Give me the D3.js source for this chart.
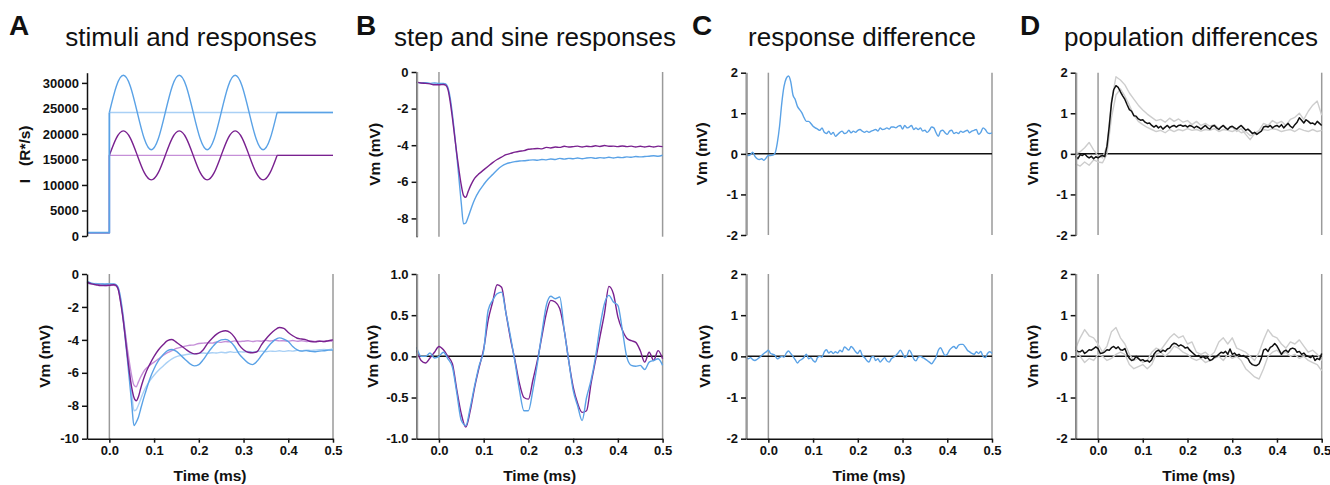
<!DOCTYPE html>
<html><head><meta charset="utf-8">
<script src="https://cdn.jsdelivr.net/npm/d3@7"></script>
<style>
body{margin:0;background:#fff;}
text{font-family:"Liberation Sans",Arial,Helvetica,sans-serif;}
</style></head><body>
<svg id="chart" width="1330" height="485"></svg>
<script>
// ---------------- DATA ----------------
// time grids (ms)
const tFine = d3.range(111).map(i => +(-0.05 + i * 0.005).toFixed(3));
const tCoarse = d3.range(56).map(i => +(-0.05 + i * 0.01).toFixed(2));
const tDense = [-0.05,-0.04,-0.03,-0.02,-0.01,0,
  0.01,0.015,0.02,0.025,0.03,0.035,0.04,0.045,0.05,0.055,0.06,0.065,0.07,0.075,
  0.08,0.09,0.1,0.11,0.12,0.13,0.14,0.15,0.16,0.17,0.18,0.19,0.2,0.21,0.22,0.23,0.24,0.25,
  0.26,0.27,0.28,0.29,0.3,0.31,0.32,0.33,0.34,0.35,0.36,0.37,0.38,0.39,0.4,0.41,0.42,0.43,
  0.44,0.45,0.46,0.47,0.48,0.49,0.5];

// stimuli (R*/s)
const stimPreT = [-0.05, 0, 0];
const stimPreBlue = [650, 650, 24200];
const stimPrePurple = [650, 650, 15800];
const stimSineT = d3.range(25).map(k => k / 64);
const stimSineBlue = [24200,29360,31500,29360,24200,19040,16900,19040,
  24200,29360,31500,29360,24200,19040,16900,19040,
  24200,29360,31500,29360,24200,19040,16900,19040,24200];
const stimSinePurple = [15800,19190,20600,19190,15800,12410,11000,12410,
  15800,19190,20600,19190,15800,12410,11000,12410,
  15800,19190,20600,19190,15800,12410,11000,12410,15800];
const stimPostT = [0.375, 0.5];
const stimPostBlue = [24200, 24200];
const stimPostPurple = [15800, 15800];
const stepLevelT = [0, 0.5];
const stepLevelBlue = [24200, 24200];
const stepLevelPurple = [15800, 15800];

// step responses (mV), on tDense
const stepPurple = [-0.55,-0.6,-0.62,-0.65,-0.7,-0.7,
  -0.68,-0.72,-0.95,-1.6,-2.5,-3.5,-4.5,-5.4,-6.2,-6.75,-6.85,-6.55,-6.25,-6.0,
  -5.8,-5.55,-5.35,-5.15,-4.95,-4.78,-4.65,-4.52,-4.45,-4.38,-4.33,-4.3,-4.22,-4.2,-4.18,-4.2,-4.12,-4.15,
  -4.1,-4.12,-4.06,-4.1,-4.08,-4.05,-4.1,-4.06,-4.08,-4.03,-4.07,-4.02,-4.06,-4.05,-4.08,-4.04,-4.08,-4.05,
  -4.1,-4.06,-4.1,-4.06,-4.1,-4.05,-4.08];
const stepBlue = [-0.55,-0.6,-0.58,-0.62,-0.6,-0.62,
  -0.62,-0.65,-0.85,-1.4,-2.3,-3.4,-4.6,-5.9,-7.2,-8.3,-8.25,-7.95,-7.6,-7.25,
  -6.95,-6.5,-6.15,-5.85,-5.6,-5.35,-5.15,-5.02,-4.95,-4.9,-4.86,-4.85,-4.82,-4.8,-4.82,-4.78,-4.8,-4.75,
  -4.78,-4.72,-4.76,-4.72,-4.74,-4.7,-4.74,-4.7,-4.68,-4.72,-4.68,-4.7,-4.66,-4.7,-4.66,-4.68,-4.64,-4.66,
  -4.62,-4.64,-4.62,-4.6,-4.58,-4.6,-4.55];
// sine responses (mV), on tDense
const sinePurple = [-0.5,-0.6,-0.65,-0.7,-0.7,-0.68,
  -0.65,-0.7,-0.95,-1.7,-2.6,-3.7,-4.9,-6.0,-6.9,-7.5,-7.7,-7.45,-6.95,-6.5,
  -6.1,-5.5,-5.0,-4.6,-4.3,-4.05,-3.98,-4.15,-4.35,-4.55,-4.75,-4.85,-4.82,-4.6,-4.2,-3.9,-3.65,-3.5,
  -3.45,-3.55,-3.85,-4.3,-4.6,-4.75,-4.78,-4.72,-4.3,-3.95,-3.65,-3.4,-3.25,-3.3,-3.55,-3.75,-3.9,-3.95,
  -4.0,-4.1,-4.12,-4.08,-4.1,-4.05,-4.0];
const sineBlue = [-0.45,-0.55,-0.6,-0.6,-0.62,-0.6,
  -0.6,-0.65,-0.85,-1.5,-2.5,-3.8,-5.1,-6.5,-7.9,-9.2,-9.0,-8.7,-8.2,-7.7,
  -7.25,-6.4,-5.75,-5.25,-4.9,-4.65,-4.58,-4.7,-4.95,-5.2,-5.45,-5.58,-5.5,-5.2,-4.8,-4.45,-4.15,-4.0,
  -3.97,-4.1,-4.4,-4.85,-5.15,-5.4,-5.5,-5.3,-4.95,-4.6,-4.25,-4.0,-3.88,-3.95,-4.1,-4.4,-4.6,-4.68,
  -4.65,-4.7,-4.72,-4.68,-4.66,-4.62,-4.62];

// sine minus step (mV), on tCoarse
const diffPurple = [0.07,-0.05,-0.08,-0.02,0.05,0.12,0.08,0.0,-0.09,-0.41,-0.7,-0.86,-0.66,-0.37,-0.13,0.09,
  0.44,0.66,0.87,0.84,0.52,0.21,-0.05,-0.33,-0.5,-0.52,-0.29,-0.05,0.24,0.52,0.68,0.66,0.58,0.32,-0.05,-0.37,
  -0.57,-0.68,-0.66,-0.33,-0.05,0.24,0.52,0.85,0.76,0.48,0.32,0.22,0.19,0.17,0.07,-0.07,0.05,-0.05,0.07,-0.03];
const diffBlue = [0.11,0.0,0.0,0.04,-0.02,0.0,0.05,-0.03,-0.13,-0.45,-0.78,-0.84,-0.62,-0.35,-0.11,0.07,
  0.56,0.68,0.76,0.78,0.52,0.24,-0.07,-0.41,-0.66,-0.66,-0.41,-0.09,0.28,0.62,0.73,0.7,0.72,0.32,-0.05,-0.41,
  -0.6,-0.78,-0.5,-0.29,-0.01,0.36,0.64,0.74,0.66,0.62,0.32,-0.01,-0.11,-0.12,-0.11,-0.16,-0.07,-0.05,-0.03,-0.11];

// response difference (mV), on tFine
const respDiffStep = [-0.02,-0.04,-0.02,0.04,-0.06,-0.12,-0.14,-0.12,-0.16,-0.1,
  -0.04,-0.04,-0.03,0.02,0.27,0.68,1.25,1.66,1.86,1.92,1.78,1.45,1.34,1.17,1.09,1.01,0.89,0.8,0.8,0.75,
  0.68,0.64,0.61,0.58,0.64,0.53,0.5,0.56,0.48,0.53,0.43,0.48,0.53,0.56,0.5,0.52,0.58,0.52,0.56,0.53,
  0.58,0.6,0.56,0.53,0.56,0.53,0.56,0.58,0.6,0.56,0.64,0.6,0.61,0.64,0.61,0.66,0.66,0.64,0.68,0.7,
  0.61,0.7,0.64,0.66,0.7,0.6,0.64,0.6,0.64,0.56,0.58,0.53,0.58,0.66,0.64,0.52,0.43,0.56,0.58,0.52,
  0.48,0.56,0.58,0.5,0.53,0.5,0.56,0.53,0.56,0.58,0.52,0.56,0.58,0.6,0.48,0.53,0.64,0.6,0.52,0.5,0.52];
const respDiffSine = [-0.03,-0.06,-0.03,-0.08,-0.1,-0.07,-0.03,0.02,0.07,0.11,
  0.15,0.07,0.05,0.02,-0.06,-0.03,0.0,-0.02,0.08,0.13,0.07,0.0,-0.08,-0.16,-0.1,-0.07,-0.02,0.05,-0.06,-0.03,
  -0.1,-0.14,-0.03,0.0,-0.02,0.11,0.16,0.08,0.12,0.07,0.11,0.08,0.15,0.11,0.23,0.19,0.15,0.24,0.19,0.11,
  0.07,0.15,0.02,-0.03,-0.1,-0.14,-0.03,0.0,-0.1,-0.06,-0.14,-0.08,-0.03,-0.11,-0.14,-0.06,-0.02,0.02,0.08,0.15,
  0.07,-0.03,0.02,0.15,0.07,-0.06,-0.11,-0.02,0.0,-0.03,-0.06,-0.1,-0.14,-0.18,-0.11,-0.02,0.15,0.21,0.11,0.02,
  0.05,0.15,0.21,0.24,0.19,0.27,0.29,0.29,0.23,0.15,0.11,0.07,0.05,0.11,0.07,0.12,0.0,-0.03,0.07,0.11,0.07];

// population differences (mV)
const popStepMean = [-0.06,-0.12,-0.02,-0.04,0.0,-0.06,-0.1,-0.06,-0.12,-0.07,
  -0.1,-0.06,-0.04,-0.07,0.19,0.68,1.25,1.58,1.68,1.64,1.53,1.43,1.34,1.21,1.09,1.05,0.94,0.93,0.86,0.83,
  0.84,0.78,0.75,0.76,0.7,0.66,0.7,0.64,0.68,0.61,0.66,0.7,0.64,0.68,0.7,0.66,0.7,0.71,0.68,0.7,
  0.66,0.7,0.68,0.64,0.68,0.65,0.61,0.66,0.7,0.64,0.61,0.68,0.7,0.64,0.6,0.66,0.7,0.64,0.6,0.66,
  0.68,0.64,0.61,0.66,0.7,0.64,0.58,0.61,0.56,0.5,0.53,0.48,0.52,0.56,0.66,0.68,0.66,0.7,0.64,0.68,
  0.7,0.66,0.72,0.64,0.7,0.75,0.68,0.64,0.72,0.78,0.89,0.83,0.76,0.84,0.8,0.75,0.76,0.72,0.8,0.75,0.7];
const popStepCellA = [0.0,0.05,0.15,0.28,0.1,-0.05,-0.1,0.2,1.3,1.9,1.82,1.7,1.5,1.35,1.2,1.08,
  0.98,0.9,0.82,0.85,0.78,0.88,0.8,0.86,0.78,0.82,0.72,0.8,0.7,0.75,0.68,0.72,0.62,0.7,0.62,0.66,
  0.55,0.62,0.48,0.35,0.5,0.58,0.75,0.7,0.82,0.75,0.8,0.7,0.85,0.9,1.0,0.85,1.05,1.2,1.3,0.95];
const popStepCellB = [-0.25,-0.3,-0.2,-0.28,-0.15,-0.2,-0.22,0.0,0.9,1.45,1.6,1.42,1.2,0.95,0.8,0.72,
  0.65,0.6,0.55,0.58,0.52,0.6,0.55,0.6,0.57,0.62,0.58,0.6,0.56,0.6,0.58,0.62,0.55,0.6,0.58,0.55,
  0.6,0.52,0.55,0.45,0.48,0.52,0.6,0.58,0.62,0.6,0.55,0.58,0.6,0.55,0.62,0.58,0.55,0.6,0.55,0.58];
const popSineMean = [0.15,0.12,0.11,0.15,0.07,0.11,0.16,0.15,0.19,0.23,
  0.19,0.07,0.08,0.11,0.16,0.15,0.21,0.24,0.19,0.23,0.16,0.15,0.19,0.05,-0.05,-0.1,-0.08,0.0,-0.05,-0.1,
  -0.08,-0.12,-0.1,-0.14,-0.08,0.05,0.12,0.15,0.1,0.15,0.12,0.18,0.2,0.28,0.32,0.3,0.25,0.28,0.25,0.2,
  0.22,0.15,0.1,0.05,0.0,0.02,-0.03,0.0,-0.05,-0.03,-0.1,-0.08,-0.02,0.0,0.05,0.1,0.08,0.12,0.05,0.18,
  0.05,0.08,0.02,0.05,0.0,0.02,-0.02,-0.05,-0.15,-0.2,-0.22,-0.22,-0.18,-0.05,0.15,0.18,0.12,0.22,0.25,0.31,
  0.25,0.15,0.05,0.12,0.15,0.1,0.18,0.2,0.18,0.1,0.12,0.05,0.08,0.02,0.0,-0.03,0.02,-0.1,-0.05,-0.08,0.07];
const popSineCellA = [0.2,0.45,0.65,0.5,0.45,0.3,0.1,0.25,0.6,0.7,0.45,0.3,0.05,-0.1,-0.05,-0.15,
  -0.1,0.1,0.2,0.15,0.3,0.45,0.55,0.45,0.5,0.3,0.35,0.1,0.05,0.1,0.0,0.1,0.35,0.45,0.3,0.45,
  0.2,0.15,0.1,0.0,-0.1,0.1,0.4,0.65,0.5,0.45,0.3,0.2,0.35,0.3,0.4,0.25,0.1,0.15,0.05,-0.1];
const popSineCellB = [0.2,0.0,-0.15,-0.05,-0.1,0.05,0.0,-0.1,-0.05,0.05,0.1,0.05,-0.2,-0.3,-0.25,-0.2,
  -0.3,-0.2,0.05,0.1,0.0,0.1,0.25,0.2,0.1,0.05,-0.05,-0.1,-0.05,-0.15,-0.1,-0.05,0.0,-0.1,0.05,-0.05,
  0.0,-0.1,-0.3,-0.4,-0.5,-0.55,-0.3,0.0,0.1,0.15,0.05,0.1,0.0,0.05,-0.05,0.0,-0.1,-0.15,-0.2,-0.35];

// tick labels
const timeTicks = [0, 0.1, 0.2, 0.3, 0.4, 0.5];
const stimTicks = [0, 5000, 10000, 15000, 20000, 25000, 30000];
const respTicksA = [0, -2, -4, -6, -8, -10];
const respTicksB = [0, -2, -4, -6, -8];
const diffTicksB = [1.0, 0.5, 0.0, -0.5, -1.0];
const diffTicks = [2, 1, 0, -1, -2];

const panelLetters = ["A", "B", "C", "D"];
const panelTitles = ["stimuli and responses", "step and sine responses", "response difference", "population differences"];

// ---------------- DRAWING ----------------
const C = {
  blue: "#5aa2e6", lightBlue: "#a9d0f5",
  purple: "#79218f", lightPurple: "#c58fd8",
  grayLine: "#9a9a9a", cell: "#cdcdcd", black: "#111"
};
const svg = d3.select("#chart");
const PW = 246;
const TOPR = [236, 72.7], BOTR = [438.7, 274];
const X0 = [87, 416.6, 746, 1075.7];

function panel(o) {
  const x = d3.scaleLinear().domain([-0.05, 0.5]).range([o.x0, o.x0 + PW]);
  const y = d3.scaleLinear().domain(o.yDomain).range(o.yRange);
  const g = svg.append("g");
  (o.vlines || []).forEach(t => {
    g.append("line").attr("x1", x(t)).attr("x2", x(t))
      .attr("y1", o.yRange[1]).attr("y2", o.yRange[0])
      .attr("stroke", C.grayLine).attr("stroke-width", 1.5);
  });
  if (o.zero) {
    g.append("line").attr("x1", x(-0.05)).attr("x2", x(0.5))
      .attr("y1", y(0)).attr("y2", y(0))
      .attr("stroke", C.black).attr("stroke-width", 1.5);
  }
  o.series.forEach(s => {
    const line = d3.line().x(d => x(d[0])).y(d => y(d[1])).curve(s.curve || d3.curveLinear);
    g.append("path").datum(d3.zip(s.t, s.v)).attr("d", line)
      .attr("fill", "none").attr("stroke", s.color)
      .attr("stroke-width", s.w || 1.4).attr("stroke-linejoin", "round");
  });
  const ya = g.append("g").attr("transform", `translate(${o.x0},0)`)
    .call(d3.axisLeft(y).tickValues(o.ticks).tickFormat(o.fmt).tickSize(5).tickSizeOuter(0).tickPadding(3));
  ya.select(".domain").attr("stroke", C.black).attr("stroke-width", 1.5);
  ya.selectAll(".tick line").attr("stroke", C.black).attr("stroke-width", 1.5);
  ya.selectAll(".tick text").attr("fill", C.black).style("font-size", "13px").style("font-weight", "bold");
  if (o.leftGray) {
    g.append("line").attr("x1", o.x0 + 0.8).attr("x2", o.x0 + 0.8)
      .attr("y1", o.yRange[1]).attr("y2", o.yRange[0])
      .attr("stroke", C.grayLine).attr("stroke-width", 1.6);
  }
  if (o.xaxis) {
    const xa = g.append("g").attr("transform", `translate(0,${o.yRange[0]})`)
      .call(d3.axisBottom(x).tickValues(timeTicks).tickFormat(d => d.toFixed(1)).tickSize(4).tickSizeOuter(0).tickPadding(3));
    xa.select(".domain").attr("stroke", C.black).attr("stroke-width", 1.5);
    xa.selectAll(".tick line").attr("stroke", C.black).attr("stroke-width", 1.5);
    xa.selectAll(".tick text").attr("fill", C.black).style("font-size", "13px").style("font-weight", "bold");
    g.append("text").attr("x", o.x0 + PW / 2).attr("y", 481).attr("text-anchor", "middle")
      .style("font-size", "15.5px").style("font-weight", "bold").attr("fill", C.black).text("Time (ms)");
  }
  g.append("text").attr("transform", `translate(${o.labelX},${(o.yRange[0] + o.yRange[1]) / 2}) rotate(-90)`)
    .attr("text-anchor", "middle").attr("dy", "0.35em")
    .style("font-size", "15.5px").style("font-weight", "bold").style("white-space", "pre")
    .attr("fill", C.black).text(o.label);
}

const intFmt = d => String(d);
const oneFmt = d => d.toFixed(1);

// Titles & letters
panelLetters.forEach((L, i) => {
  const lx = [9, 356, 692, 1020][i];
  svg.append("text").attr("x", lx).attr("y", 35).style("font-size", "28px").style("font-weight", "bold")
    .attr("fill", C.black).text(L);
  svg.append("text").attr("x", [191, 535, 862, 1191][i]).attr("y", 46).attr("text-anchor", "middle")
    .style("font-size", "26px").attr("fill", C.black).text(panelTitles[i]);
});

// A top: stimuli
panel({
  x0: X0[0], yDomain: [0, 32000], yRange: TOPR, ticks: stimTicks, fmt: intFmt,
  label: "I   (R*/s)", labelX: 25,
  series: [
    {t: stepLevelT, v: stepLevelPurple, color: C.lightPurple},
    {t: stepLevelT, v: stepLevelBlue, color: C.lightBlue},
    {t: stimPreT, v: stimPrePurple, color: C.purple},
    {t: stimSineT, v: stimSinePurple, color: C.purple, curve: d3.curveNatural},
    {t: stimPostT, v: stimPostPurple, color: C.purple},
    {t: stimPreT, v: stimPreBlue, color: C.blue, w: 1.8},
    {t: stimSineT, v: stimSineBlue, color: C.blue, curve: d3.curveNatural},
    {t: stimPostT, v: stimPostBlue, color: C.blue}
  ]
});
// A bottom
panel({
  x0: X0[0], yDomain: [-10, 0], yRange: BOTR, ticks: respTicksA, fmt: intFmt,
  label: "Vm (mV)", labelX: 45, xaxis: true, vlines: [0, 0.5],
  series: [
    {t: tDense, v: stepBlue, color: C.lightBlue, curve: d3.curveMonotoneX},
    {t: tDense, v: stepPurple, color: C.lightPurple, curve: d3.curveMonotoneX},
    {t: tDense, v: sineBlue, color: C.blue, curve: d3.curveMonotoneX},
    {t: tDense, v: sinePurple, color: C.purple, curve: d3.curveMonotoneX}
  ]
});
// B top
panel({
  x0: X0[1], yDomain: [-9, 0], yRange: [236.7, 72], ticks: respTicksB, fmt: intFmt,
  label: "Vm (mV)", labelX: 375, vlines: [0, 0.5], leftGray: true,
  series: [
    {t: tDense, v: stepBlue, color: C.blue, curve: d3.curveMonotoneX},
    {t: tDense, v: stepPurple, color: C.purple, curve: d3.curveMonotoneX}
  ]
});
// B bottom
panel({
  x0: X0[1], yDomain: [-1, 1], yRange: BOTR, ticks: diffTicksB, fmt: oneFmt,
  label: "Vm (mV)", labelX: 373, xaxis: true, vlines: [0, 0.5], zero: true, leftGray: true,
  series: [
    {t: tCoarse, v: diffPurple, color: C.purple, curve: d3.curveMonotoneX},
    {t: tCoarse, v: diffBlue, color: C.blue, curve: d3.curveMonotoneX}
  ]
});
// C top
panel({
  x0: X0[2], yDomain: [-2, 2], yRange: [235, 72.7], ticks: diffTicks, fmt: intFmt,
  label: "Vm (mV)", labelX: 702, vlines: [0, 0.5], zero: true, leftGray: true,
  series: [{t: tFine, v: respDiffStep, color: C.blue, curve: d3.curveMonotoneX}]
});
// C bottom
panel({
  x0: X0[2], yDomain: [-2, 2], yRange: BOTR, ticks: diffTicks, fmt: intFmt,
  label: "Vm (mV)", labelX: 705, xaxis: true, vlines: [0, 0.5], zero: true, leftGray: true,
  series: [{t: tFine, v: respDiffSine, color: C.blue, curve: d3.curveMonotoneX}]
});
// D top
panel({
  x0: X0[3], yDomain: [-2, 2], yRange: [235, 72.7], ticks: diffTicks, fmt: intFmt,
  label: "Vm (mV)", labelX: 1033, vlines: [0, 0.5], zero: true, leftGray: true,
  series: [
    {t: tCoarse, v: popStepCellA, color: C.cell},
    {t: tCoarse, v: popStepCellB, color: C.cell},
    {t: tFine, v: popStepMean, color: C.black, w: 1.5}
  ]
});
// D bottom
panel({
  x0: X0[3], yDomain: [-2, 2], yRange: BOTR, ticks: diffTicks, fmt: intFmt,
  label: "Vm (mV)", labelX: 1033, xaxis: true, vlines: [0, 0.5], zero: true, leftGray: true,
  series: [
    {t: tCoarse, v: popSineCellA, color: C.cell},
    {t: tCoarse, v: popSineCellB, color: C.cell},
    {t: tFine, v: popSineMean, color: C.black, w: 1.5}
  ]
});
</script>
</body></html>
